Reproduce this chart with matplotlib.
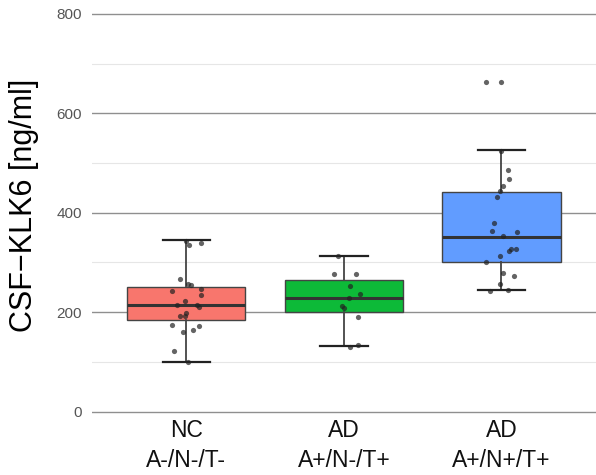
import numpy as np
import matplotlib.pyplot as plt

plt.rcParams['font.family'] = ['Liberation Sans', 'DejaVu Sans']

groups = ['NC\nA-/N-/T-', 'AD\nA+/N-/T+', 'AD\nA+/N+/T+']
colors = ['#F8766D', '#0DBA38', '#619CFF']

# box stats: whisker low, q1, median, q3, whisker high
whislo = [100, 131, 244]
q1 = [185, 200, 301]
med = [214, 228, 352]
q3 = [250, 265, 442]
whishi = [345, 312, 526]

# points (value, horizontal offset from group centre)
nc_vals = [344, 336, 340, 267, 257, 254, 242, 247, 235, 223, 214, 215, 210,
           198, 193, 193, 174, 173, 165, 161, 121, 99]
nc_off = [0.0, 0.02, 0.09, -0.04, 0.01, 0.03, -0.09, 0.09, 0.09, -0.01, -0.06,
          0.07, 0.08, 0.0, -0.04, -0.01, -0.09, 0.08, 0.04, -0.02, -0.08, 0.01]
ad1_vals = [312, 277, 277, 252, 237, 228, 213, 208, 190, 130, 134]
ad1_off = [-0.04, -0.06, 0.08, 0.04, 0.1, 0.03, -0.01, 0.0, 0.09, 0.04, 0.09]
ad2_vals = [663, 663, 525, 487, 468, 454, 443, 432, 380, 364, 362, 353, 323,
            328, 328, 314, 300, 278, 273, 257, 242, 245]
ad2_off = [-0.1, 0.0, 0.0, 0.04, 0.05, 0.01, -0.01, -0.03, -0.05, -0.06, 0.1,
           0.01, 0.05, 0.06, 0.09, -0.01, -0.1, 0.01, 0.08, -0.01, -0.07, 0.04]

fig = plt.figure(figsize=(5.96, 4.75), dpi=100)
ax = fig.add_axes([0.154, 0.12, 0.846, 0.861])

stats = []
for i in range(3):
    stats.append(dict(whislo=whislo[i], q1=q1[i], med=med[i], q3=q3[i],
                      whishi=whishi[i], fliers=[]))

bp = ax.bxp(stats, positions=[1, 2, 3], widths=0.75, patch_artist=True,
            showfliers=False,
            boxprops=dict(edgecolor='#444444', linewidth=1.0),
            medianprops=dict(color='#333333', linewidth=2.2),
            whiskerprops=dict(color='#444444', linewidth=1.3),
            capprops=dict(color='#222222', linewidth=1.6),
            capwidths=0.3)
for patch, c in zip(bp['boxes'], colors):
    patch.set_facecolor(c)
for artist in bp['boxes'] + bp['medians'] + bp['whiskers'] + bp['caps']:
    artist.set_zorder(3)

for pos, vals, offs in [(1, nc_vals, nc_off), (2, ad1_vals, ad1_off),
                        (3, ad2_vals, ad2_off)]:
    ax.scatter(np.array(offs) + pos, vals, s=14, color='#222222',
               alpha=0.7, zorder=4, linewidths=0)

ax.set_xlim(0.4, 3.6)
ax.set_ylim(-13, 810)
ax.set_yticks([0, 200, 400, 600, 800])
ax.set_yticks([100, 300, 500, 700], minor=True)
ax.grid(axis='y', which='major', color='#8f8f8f', linewidth=1.0, zorder=0)
ax.grid(axis='y', which='minor', color='#e6e6e6', linewidth=0.8, zorder=0)
ax.set_axisbelow(True)
for s in ax.spines.values():
    s.set_visible(False)
ax.tick_params(axis='y', which='both', length=0, pad=7, labelsize=11,
               labelcolor='#555555')
ax.tick_params(axis='x', length=0, pad=1, labelsize=16.5, labelcolor='#111111')
ax.set_xticks([1, 2, 3])
ax.set_xticklabels(groups, linespacing=1.35)
ax.set_ylabel('CSF\u2212KLK6 [ng/ml]', fontsize=22)
ax.yaxis.set_label_coords(-0.104, 0.52)

fig.savefig('out.png', dpi=100)
